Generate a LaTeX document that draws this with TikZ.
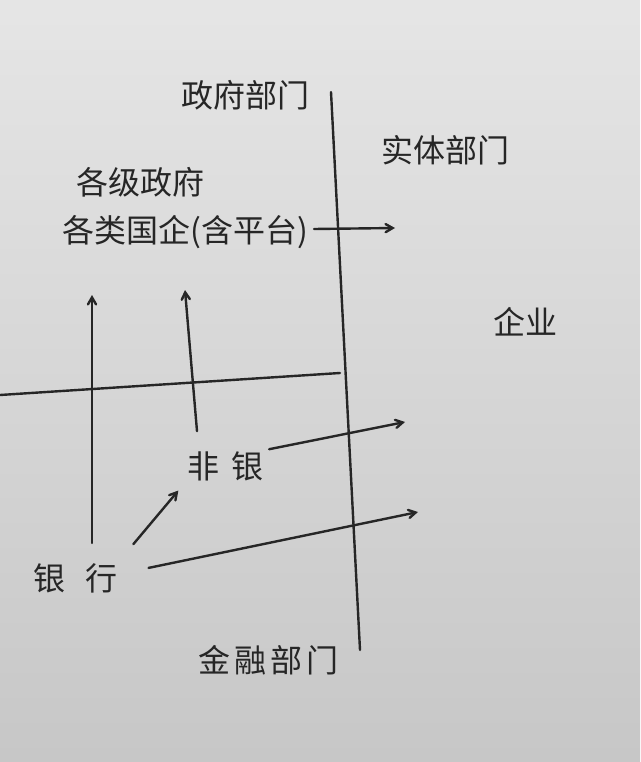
\documentclass[tikz,border=0pt]{standalone}
\usepackage{fontspec}
\newfontfamily\cjk{Noto Sans CJK SC}
\usetikzlibrary{arrows}
\usetikzlibrary{positioning}

\begin{document}
\begin{tikzpicture}[x=1pt,y=-1pt,>=angle 60]
\tikzstyle{hand}=[font=\cjk\fontsize{32}{34}\selectfont,text=black!85,inner sep=2pt]
\tikzstyle{ink}=[draw=black!85,line width=2.4pt,line cap=round]
\shade[top color=black!10,bottom color=black!22] (0,0) rectangle (640,762);
\useasboundingbox (0,0) rectangle (640,762);
\node[hand] (gov) at (245,95) {政府部门};
\node[hand] (real) at (445,150) {实体部门};
\node[hand] (levels) at (140,182) {各级政府};
\node[hand] (soe) at (185,232) {各类国企(含平台)};
\node[hand] (firm) at (525,322) {企业};
\node[hand] (nonbank) at (225,466) {非\hspace{12pt}银};
\node[hand] (bank) at (75,578) {银\hspace{20pt}行};
\node[hand] (fin) at (268,660) {金\hspace{4pt}融\hspace{4pt}部\hspace{4pt}门};
\coordinate (divtop) at (331,92);
\coordinate (divbot) at (360,650);
\coordinate (hleft) at (0,395);
\coordinate (hright) at (340,373);
\coordinate (soeout) at (395,228);
\coordinate (bankup) at (92,295);
\coordinate (nonbankup) at (185,290);
\coordinate (nonbankout) at (405,422);
\coordinate (bankout) at (418,512);
\draw[ink] (divtop) -- (divbot);
\draw[ink] (hleft) -- (hright);
\draw[ink,->] (soe.east) ++(4,-3) -- (soeout);
\draw[ink,->] ([xshift=17pt]bank.north) ++(0,-18) -- (bankup);
\draw[ink,->] ([xshift=-28pt]nonbank.north) ++(0,-18) -- (nonbankup);
\draw[ink,->,shorten <=4pt] ([yshift=16pt]nonbank.east) -- (nonbankout);
\draw[ink,->,shorten <=30pt] ([yshift=4pt]bank.east) -- (bankout);
\draw[ink,->,shorten <=22pt,shorten >=10pt] (bank.north east) -- (nonbank.south west);
\end{tikzpicture}
\end{document}
